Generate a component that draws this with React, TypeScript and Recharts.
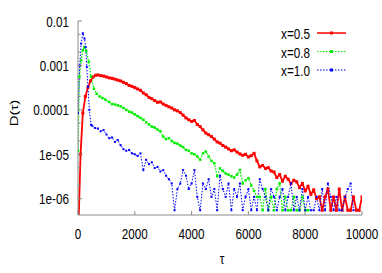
import React from "react";
import { LineChart, Line, XAxis, YAxis, Legend } from "recharts";

// ---------- data ----------
const redTau = [0, 90, 170, 260, 350, 440, 530, 620,
  700, 800, 900, 1000, 1100, 1200, 1300, 1400, 1500, 1600, 1700, 1800, 1900,
  2000, 2100, 2200, 2300, 2400, 2500, 2600, 2700, 2800, 2900,
  3000, 3100, 3200, 3300, 3400, 3500, 3600, 3700, 3800, 3900,
  4000, 4100, 4200, 4300, 4400, 4500, 4600, 4700, 4800, 4900,
  5000, 5100, 5200, 5300, 5400, 5500, 5600, 5700, 5800, 5900,
  6000, 6100, 6200, 6300, 6400, 6500, 6600, 6700, 6800, 6900,
  7000, 7100, 7200, 7300, 7400, 7500, 7600, 7700, 7800, 7900,
  8000, 8100, 8200, 8300, 8400, 8500, 8600, 8700, 8800, 8900,
  9000, 9100, 9200, 9300, 9400, 9500, 9600, 9700, 9800, 9900, 10000];
const redD = [1e-7, 1.0e-5, 8.5e-5, 2.0e-4, 3.2e-4, 4.5e-4, 5.5e-4, 6.0e-4,
  6.1e-4, 5.9e-4, 5.75e-4, 5.5e-4, 5.25e-4, 5.13e-4, 4.9e-4, 4.68e-4, 4.47e-4, 4.17e-4, 3.89e-4, 3.55e-4, 3.39e-4,
  3.16e-4, 2.95e-4, 2.75e-4, 2.4e-4, 2.19e-4, 1.91e-4, 1.78e-4, 1.62e-4, 1.48e-4, 1.51e-4,
  1.35e-4, 1.26e-4, 1.17e-4, 1.1e-4, 1.0e-4, 9.5e-5, 8.7e-5, 7.6e-5, 6.6e-5, 6.0e-5,
  5.5e-5, 5.75e-5, 4.7e-5, 4.2e-5, 3.55e-5, 3.0e-5, 2.75e-5, 2.5e-5, 2.2e-5, 1.9e-5,
  1.78e-5, 1.58e-5, 1.45e-5, 1.32e-5, 1.2e-5, 1.26e-5, 1.12e-5, 1.02e-5, 9.5e-6, 1.0e-5,
  8.7e-6, 9.3e-6, 1.05e-5, 7.1e-6, 5.2e-6, 5.6e-6, 4.8e-6, 5.0e-6, 4.2e-6, 4.0e-6,
  3.0e-6, 3.5e-6, 2.5e-6, 3.2e-6, 2.75e-6, 2.2e-6, 2.6e-6, 2.4e-6, 1.78e-6, 2.2e-6,
  1.5e-6, 1.9e-6, 1.26e-6, 1.58e-6, 1.0e-6, 1.1e-6, 5.5e-7, 1.1e-6, 1.65e-6, 5.5e-7,
  1.1e-6, 5.5e-7, 1.65e-6, 5.5e-7, 1.1e-6, 5.5e-7, 5.5e-7, 1.1e-6, 5.5e-7, 5.5e-7, 1.1e-6];

const greenTau = [0, 50, 110, 170, 230, 290, 380, 460, 560, 660, 760, 860, 960, 1100,
  1200, 1300, 1400, 1500, 1600, 1700, 1800, 1900,
  2000, 2100, 2200, 2300, 2400, 2500, 2600, 2700, 2800, 2900,
  3000, 3100, 3200, 3300, 3400, 3500, 3600, 3700, 3800, 3900,
  4000, 4100, 4200, 4300, 4400, 4500, 4600, 4700, 4800, 4900,
  5000, 5100, 5200, 5300, 5400, 5500, 5600, 5700, 5800, 5900,
  6000, 6100, 6200, 6300, 6400, 6500, 6600, 6700, 6800, 6900,
  7000, 7100, 7200, 7300, 7400, 7500, 7600, 7700, 7800, 7900,
  8000, 8100];
const greenD = [1.2e-5, 5.6e-4, 1.3e-3, 2.2e-3, 2.6e-3, 2.1e-3, 1.2e-3, 5.6e-4, 3.0e-4, 2.3e-4, 2.0e-4, 1.85e-4, 1.7e-4, 1.5e-4,
  1.35e-4, 1.32e-4, 1.26e-4, 1.2e-4, 1.1e-4, 1.0e-4, 9.1e-5, 8.7e-5,
  7.9e-5, 7.2e-5, 6.6e-5, 6.0e-5, 5.25e-5, 4.7e-5, 4.2e-5, 4.0e-5, 3.6e-5, 3.3e-5,
  2.5e-5, 2.2e-5, 2.3e-5, 2.0e-5, 1.8e-5, 1.74e-5, 1.58e-5, 1.45e-5, 1.26e-5, 1.2e-5,
  1.05e-5, 1.0e-5, 8.9e-6, 7.6e-6, 1.05e-5, 1.15e-5, 8.9e-6, 7.1e-6, 6.3e-6, 3.2e-6,
  4.8e-6, 4.2e-6, 3.7e-6, 3.5e-6, 3.2e-6, 3.0e-6, 3.5e-6, 4.4e-6, 2.2e-6, 2.6e-6,
  2.9e-6, 2.0e-6, 1.5e-6, 1.1e-6, 1.1e-6, 5.5e-7, 1.65e-6, 5.5e-7, 1.1e-6, 5.5e-7,
  1.65e-6, 2.2e-6, 5.5e-7, 1.1e-6, 5.5e-7, 5.5e-7, 1.1e-6, 5.5e-7, 5.5e-7, 1.1e-6,
  5.5e-7, 5.5e-7];

const blueTau = [0, 60, 110, 170, 230, 270, 310, 350, 400, 460,
  500, 600, 700, 800, 900, 1000, 1100, 1200, 1300, 1400, 1500, 1600, 1700, 1800, 1900,
  2000, 2100, 2200, 2300, 2400, 2500, 2600, 2700, 2800, 2900,
  3000, 3100, 3200, 3300, 3400, 3500, 3600, 3700, 3800, 3900,
  4000, 4100, 4200, 4300, 4400, 4500, 4600, 4700, 4800, 4900,
  5000, 5100, 5200, 5300, 5400, 5500, 5600, 5700, 5800, 5900,
  6000, 6100, 6200, 6300, 6400, 6500, 6600, 6700, 6800, 6900,
  7000, 7100, 7200, 7300, 7400, 7500, 7600, 7700, 7800, 7900,
  8000, 8100, 8200, 8300, 8400, 8500, 8600, 8700, 8800, 8900,
  9000, 9100, 9200, 9300, 9400, 9500, 9600, 9700];
const blueD = [8.5e-5, 1.0e-3, 3.1e-3, 5.3e-3, 4.0e-3, 2.6e-3, 9.3e-4, 3.3e-4, 1.0e-4, 4.6e-5,
  4.4e-5, 3.9e-5, 3.8e-5, 3.3e-5, 3.5e-5, 2.8e-5, 2.3e-5, 2.4e-5, 1.9e-5, 2.1e-5, 1.6e-5, 1.3e-5, 1.2e-5, 1.25e-5, 1.05e-5,
  1.0e-5, 9.2e-6, 1.05e-5, 4.4e-6, 7.5e-6, 6.0e-6, 6.6e-6, 4.9e-6, 5.2e-6, 4.1e-6,
  4.4e-6, 3.3e-6, 2.75e-6, 2.2e-6, 5.5e-7, 1.65e-6, 2.2e-6, 4.4e-6, 3.3e-6, 1.65e-6,
  2.2e-6, 4.4e-6, 1.1e-6, 5.5e-7, 2.2e-6, 1.65e-6, 2.75e-6, 1.1e-6, 1.65e-6, 5.5e-7,
  3.3e-6, 1.65e-6, 1.1e-6, 2.2e-6, 5.5e-7, 1.65e-6, 1.1e-6, 2.2e-6, 5.5e-7, 1.1e-6,
  1.65e-6, 5.5e-7, 1.1e-6, 5.5e-7, 2.75e-6, 1.65e-6, 1.1e-6, 5.5e-7, 1.65e-6, 1.1e-6,
  5.5e-7, 1.1e-6, 1.65e-6, 5.5e-7, 1.1e-6, 2.2e-6, 5.5e-7, 1.1e-6, 5.5e-7, 1.65e-6,
  5.5e-7, 1.1e-6, 5.5e-7, 5.5e-7, 1.1e-6, 5.5e-7, 1.65e-6, 5.5e-7, 2.2e-6, 1.1e-6,
  5.5e-7, 1.1e-6, 5.5e-7, 5.5e-7, 1.1e-6, 1.65e-6, 2.2e-6, 5.5e-7];

const seriesNames = ["x=0.5", "x=0.8", "x=1.0"];
const tauTicks = [0, 2000, 4000, 6000, 8000, 10000];
const dMajor = [1e-6, 1e-5, 1e-4, 1e-3, 1e-2];
const dMajorLabels = ["1e-06", "1e-05", "0.0001", "0.001", "0.01"];
const dMinor = [2e-6, 5e-6, 2e-5, 5e-5, 2e-4, 5e-4, 2e-3, 5e-3];
const dDomain = [4.3e-7, 0.01];
const tauDomain = [0, 10000];

// ---------- styling ----------
const W = 382, H = 273;
const FRAME = "#8a8a8a";
const FONT = "'Liberation Sans', Arial, Helvetica, sans-serif";
const SX = 0.78;
const COLORS = ["#ff0000", "#00ee00", "#0000ff"];

const build = (t: number[], d: number[]) =>
  t.slice(0, Math.min(t.length, d.length)).map((tau, i) => ({ tau, d: d[i] }));
const redData = build(redTau, redD);
const greenData = build(greenTau, greenD);
const blueData = build(blueTau, blueD);

const yTicks = [...dMajor, ...dMinor].sort((a, b) => a - b);

const makeDot = (color: string, s: number) => (p: any) => {
  const { cx, cy, index } = p;
  if (cx == null || cy == null || !isFinite(cx) || !isFinite(cy)) return <g key={`d${index}`} />;
  return <rect key={`d${index}`} x={cx - s / 2} y={cy - s / 2} width={s} height={s} fill={color} />;
};

const BottomTick = (p: any) => {
  const { x, y, payload } = p;
  return (
    <g>
      <line x1={x} x2={x} y1={y} y2={y - 4} stroke={FRAME} />
      <text transform={`translate(${x},${y + 24}) scale(${SX},1)`} textAnchor="middle" fontSize={15} fontFamily={FONT} fill="#000">
        {String(payload.value)}
      </text>
    </g>
  );
};
const TopTick = (p: any) => {
  const { x, y } = p;
  return <line x1={x} x2={x} y1={y} y2={y + 4} stroke={FRAME} />;
};
const LeftTick = (p: any) => {
  const { x, y, payload } = p;
  const i = dMajor.indexOf(payload.value);
  const major = i >= 0;
  return (
    <g>
      <line x1={x} x2={x + (major ? 4 : 2.5)} y1={y} y2={y} stroke={FRAME} />
      {major && (
        <text transform={`translate(${x - 9},${y + 5.5}) scale(${SX},1)`} textAnchor="end" fontSize={15} fontFamily={FONT} fill="#000">
          {dMajorLabels[i]}
        </text>
      )}
    </g>
  );
};
const RightTick = (p: any) => {
  const { x, y, payload } = p;
  const major = dMajor.indexOf(payload.value) >= 0;
  return <line x1={x} x2={x - (major ? 4 : 2.5)} y1={y} y2={y} stroke={FRAME} />;
};

const XTitle = () => (
  <text transform={`translate(222,264) scale(${SX},1)`} textAnchor="middle" fontSize={15} fontFamily={FONT} fill="#000">τ</text>
);
const YTitle = () => (
  <text transform={`translate(18,113) rotate(-90) scale(1,${SX})`} textAnchor="middle" fontSize={15} fontFamily={FONT} fill="#000">D(τ)</text>
);

const LegendContent = () => {
  const rows = [33, 51.5, 70];
  const dashes = [undefined, "1.5 1.5", "1.5 1.5"];
  return (
    <svg width={W} height={H} style={{ position: "absolute", left: 0, top: 0 }}>
      {seriesNames.map((n, i) => (
        <g key={n}>
          <text transform={`translate(310,${rows[i] + 6}) scale(${SX},1)`} textAnchor="end" fontSize={15} fontFamily={FONT} fill="#000">{n}</text>
          <line x1={317} x2={346} y1={rows[i]} y2={rows[i]} stroke={COLORS[i]} strokeWidth={i === 0 ? 1.5 : 1.2} strokeDasharray={dashes[i]} />
          <rect x={330} y={rows[i] - 1.5} width={3} height={3} fill={COLORS[i]} />
        </g>
      ))}
    </svg>
  );
};

export default function App() {
  return (
    <div style={{ position: "absolute", left: 0, top: 0, width: W, height: H, background: "#fff" }}>
      <LineChart width={W} height={H} margin={{ top: 21, right: 20, bottom: 28, left: 8 }}>
        <XAxis xAxisId="b" dataKey="tau" type="number" domain={tauDomain} ticks={tauTicks} interval={0}
          orientation="bottom" height={30} stroke={FRAME} tickLine={false} tickSize={0} tickMargin={0}
          tick={<BottomTick />} label={<XTitle />} allowDataOverflow />
        <XAxis xAxisId="t" dataKey="tau" type="number" domain={tauDomain} ticks={tauTicks} interval={0}
          orientation="top" height={0} stroke={FRAME} tickLine={false} tickSize={0} tickMargin={0}
          tick={<TopTick />} allowDataOverflow />
        <YAxis yAxisId="l" type="number" scale="log" domain={dDomain} ticks={yTicks} interval={0}
          orientation="left" width={70} stroke={FRAME} tickLine={false} tickSize={0} tickMargin={0}
          tick={<LeftTick />} label={<YTitle />} allowDataOverflow />
        <YAxis yAxisId="r" type="number" scale="log" domain={dDomain} ticks={yTicks} interval={0}
          orientation="right" width={0} stroke={FRAME} tickLine={false} tickSize={0} tickMargin={0}
          tick={<RightTick />} allowDataOverflow />
        <Legend content={<LegendContent />} layout="horizontal" verticalAlign="middle" align="center"
          wrapperStyle={{ position: "absolute", left: 0, top: 0, width: W, height: H, pointerEvents: "none" }} />
        <Line xAxisId="b" yAxisId="l" data={redData} dataKey="d" name={seriesNames[0]} stroke={COLORS[0]}
          strokeWidth={1.8} dot={makeDot(COLORS[0], 3)} isAnimationActive={false} />
        <Line xAxisId="b" yAxisId="l" data={greenData} dataKey="d" name={seriesNames[1]} stroke={COLORS[1]}
          strokeWidth={1.3} strokeDasharray="1.5 1.5" dot={makeDot(COLORS[1], 2.5)} isAnimationActive={false} />
        <Line xAxisId="b" yAxisId="l" data={blueData} dataKey="d" name={seriesNames[2]} stroke={COLORS[2]}
          strokeWidth={1} strokeDasharray="1.5 1.5" dot={makeDot(COLORS[2], 2)} isAnimationActive={false} />
      </LineChart>
    </div>
  );
}
